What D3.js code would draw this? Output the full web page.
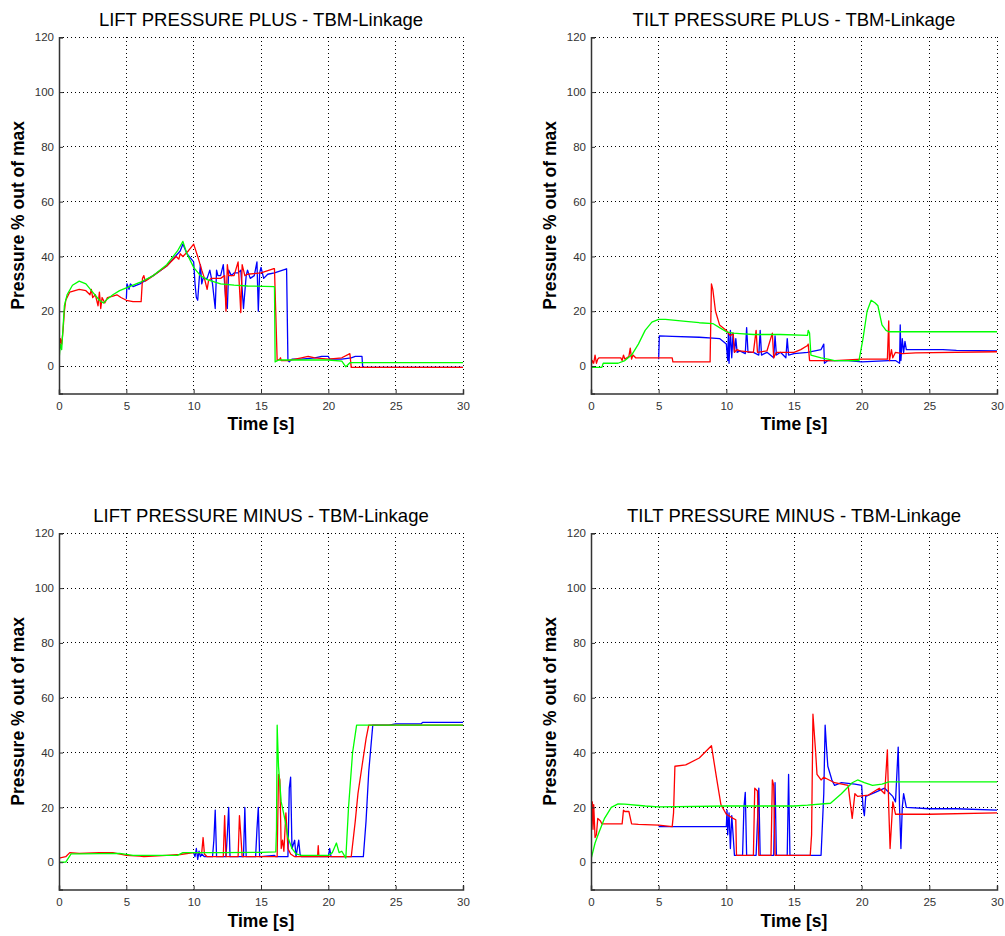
<!DOCTYPE html>
<html>
<head>
<meta charset="utf-8">
<script src="https://cdn.jsdelivr.net/npm/d3@7/dist/d3.min.js"></script>
<style>
  html, body { margin: 0; padding: 0; background: #fff; }
  svg { display: block; font-family: "Liberation Sans", Arial, sans-serif; }
</style>
</head>
<body>
<svg id="chart" width="1005" height="936"></svg>
<script>
// Axis ticks shared by all four panels
const timeTicks = [0, 5, 10, 15, 20, 25, 30];
const pressureTicks = [0, 20, 40, 60, 80, 100, 120];

// Panel titles
const titles = [
  "LIFT PRESSURE PLUS - TBM-Linkage",
  "TILT PRESSURE PLUS - TBM-Linkage",
  "LIFT PRESSURE MINUS - TBM-Linkage",
  "TILT PRESSURE MINUS - TBM-Linkage"
];

// ---- LIFT PRESSURE PLUS: [time s, pressure %] ----
const liftPlusBlue = [
  [5, 24.5], [5.05, 30], [5.2, 28], [5.3, 30], [5.5, 29], [6, 30], [7, 33], [8, 36.5], [9, 42],
  [9.2, 44.5], [9.5, 41], [10, 38], [10.1, 30], [10.2, 25], [10.3, 24], [10.4, 31], [10.5, 37],
  [10.6, 30], [10.7, 32], [11, 32], [11.2, 35], [11.4, 30], [11.6, 21], [11.7, 35], [11.8, 33],
  [12, 33], [12.2, 37], [12.4, 23], [12.5, 21], [12.6, 35], [12.8, 33], [13, 34], [13.3, 34],
  [13.5, 35], [13.7, 21], [13.9, 33], [14, 35], [14.2, 32], [14.5, 33], [14.7, 38], [14.8, 20],
  [14.9, 34], [15, 36], [15.2, 32], [15.5, 33.5], [16, 34], [16.9, 35.5], [17, 2], [17.1, 1.5],
  [17.3, 2.5], [18, 2.5], [19, 3], [19.5, 3.5], [20, 3.5], [20.1, 2.5], [21, 2.5], [21.7, 3],
  [22, 3.5], [22.5, 3.5], [22.55, -0.5], [30, -0.5]
];
const liftPlusRed = [
  [0, 5], [0.1, 10], [0.2, 8], [0.3, 13], [0.4, 20], [0.5, 24], [0.8, 27], [1.5, 28], [2, 27.5],
  [2.3, 26], [2.4, 28], [2.5, 25], [2.7, 26], [2.9, 22], [3, 27], [3.1, 21], [3.2, 25], [3.4, 23],
  [3.6, 25], [4, 25.5], [4.3, 26], [4.6, 25], [5, 24], [5.5, 23.5], [6.1, 23.5], [6.2, 32],
  [6.3, 33], [6.4, 31], [7, 33], [8, 36.5], [8.7, 40], [8.9, 39], [9, 41], [9.2, 40], [9.6, 42],
  [10, 44.5], [10.3, 40], [10.6, 35], [10.8, 32], [11, 28], [11.1, 31], [11.3, 32], [12, 32],
  [12.3, 33], [12.4, 20], [12.5, 37], [12.6, 33], [13, 33], [13.3, 38], [13.5, 19.5], [13.6, 37],
  [13.8, 33], [14, 33.5], [15, 34], [15.9, 35.5], [16, 35.5], [16.2, 2], [16.4, 2.5], [16.45, 3],
  [16.5, 2], [17, 2], [18, 3], [18.5, 3.5], [19, 3], [20, 2.5], [21, 3], [21.6, 4.5], [21.7, -0.5],
  [30, -0.5]
];
const liftPlusGreen = [
  [0, 2], [0.1, 8], [0.2, 6], [0.3, 14], [0.4, 22], [0.6, 26], [1, 29.5], [1.5, 31], [2, 30],
  [2.5, 27], [3, 24], [3.3, 23], [3.6, 24.5], [4, 26], [4.5, 27.5], [5, 28.5], [6, 30.5], [7, 33],
  [8, 37], [8.8, 42], [9.2, 45.5], [9.5, 41], [10, 36], [10.5, 33], [11, 31.5], [12, 30], [13, 29.5],
  [14, 29.2], [16, 29], [16.05, 1.5], [16.3, 2.2], [20, 2.2], [21, 1.8], [21.3, -0.3], [21.6, 1.2],
  [30, 1.2]
];

// ---- TILT PRESSURE PLUS ----
const tiltPlusBlue = [
  [5, 2.5], [5.05, 11], [6, 10.8], [8, 10.5], [9, 10.2], [9.5, 10], [10, 8], [10.1, 2], [10.15, 12],
  [10.2, 1], [10.3, 13], [10.4, 3], [10.5, 12], [10.6, 5], [10.7, 10], [10.8, 5], [11, 5.5],
  [11.4, 4.5], [11.5, 14], [11.6, 5], [12, 5], [12.4, 4], [12.5, 13], [12.6, 4], [13, 5], [13.5, 3],
  [13.6, 11], [13.7, 4], [14, 5], [14.4, 3], [14.5, 10], [14.6, 4], [15, 4.5], [16, 5], [17, 6],
  [17.2, 8], [17.25, 1], [17.5, 2], [19, 2], [20, 1.5], [22, 2], [22.5, 2], [22.8, 1], [22.85, 15],
  [22.9, 2], [23, 10], [23.1, 5], [23.2, 9], [23.3, 6], [24, 6], [26, 6], [27, 5.7], [30, 5.5]
];
const tiltPlusRed = [
  [0, 0], [0.1, 2], [0.2, 1], [0.3, 4], [0.4, 1], [0.5, 2.5], [0.6, 3], [1.5, 3], [2.2, 3], [2.3, 2],
  [2.4, 4], [2.5, 2.5], [2.8, 3.5], [2.9, 6.5], [3, 2.5], [3.1, 4], [3.3, 3], [4, 3], [5, 3], [6, 3],
  [6.05, 1.5], [8.8, 1.5], [8.9, 30], [9, 28], [9.2, 20], [9.5, 15], [10, 13], [10.3, 11], [10.5, 12],
  [10.6, 5], [10.8, 6], [11, 5.5], [12, 5], [12.2, 13], [12.3, 5], [13, 5.5], [13.4, 12], [13.5, 3],
  [13.7, 5], [14, 5], [15, 5], [15.5, 6], [16, 7.5], [16.05, 8], [16.15, 2], [18, 2], [20, 2.5],
  [21.9, 2.5], [22, 16.5], [22.05, 2], [22.2, 6], [22.3, 3], [22.5, 5], [23, 4.5], [24, 4.8],
  [30, 5.2]
];
const tiltPlusGreen = [
  [0, -0.5], [0.8, -0.5], [0.9, 1], [2, 1], [2.5, 2], [3, 4], [3.5, 8], [4, 13], [4.5, 16], [5, 17],
  [5.5, 17], [7, 16.3], [8, 15.8], [9, 15.5], [9.5, 14], [10, 12.5], [10.5, 12], [11, 11.8],
  [12, 11.5], [14, 11.5], [16, 11.2], [16.05, 13], [16.15, 12], [16.25, 4], [17, 3], [17.5, 2.5],
  [18, 2], [19.8, 2], [20.1, 10], [20.4, 20], [20.7, 24], [21, 23], [21.2, 22], [21.5, 15],
  [21.8, 13], [22, 12.5], [23, 12.5], [30, 12.5]
];

// ---- LIFT PRESSURE MINUS ----
const liftMinusBlue = [
  [10, 3.5], [10.1, 2], [10.2, 5], [10.3, 1], [10.4, 4], [10.5, 2], [10.6, 3], [10.8, 2], [11.4, 2],
  [11.5, 8], [11.6, 19], [11.7, 2], [12.4, 2], [12.5, 10], [12.6, 20], [12.7, 2], [13.7, 2],
  [13.8, 20], [13.9, 2], [14.6, 2], [14.7, 12], [14.8, 20], [14.9, 2], [15, 2], [16, 2.5], [16.1, 2],
  [17, 2], [17.1, 27], [17.2, 31], [17.3, 5], [17.5, 8], [17.6, 2], [17.8, 8], [17.9, 3], [18, 2],
  [20, 2], [20.1, 5], [20.2, 2], [22.6, 2], [22.8, 15], [23, 33], [23.3, 50], [24.5, 50],
  [25, 50.5], [26.9, 50.5], [27, 51], [30, 51]
];
const liftMinusRed = [
  [0, 1.5], [0.5, 2], [0.8, 3.5], [1.5, 3.2], [3, 3.5], [4, 3.5], [5, 2.5], [6, 2.2], [6.3, 2],
  [8, 2.5], [9, 2.8], [10, 3.5], [10.6, 3.5], [10.7, 9], [10.8, 3], [11, 2], [12.2, 2], [12.3, 17],
  [12.4, 2], [13.3, 2], [13.4, 17], [13.5, 10], [13.6, 2], [16.2, 2], [16.3, 32], [16.4, 30],
  [16.5, 5], [16.6, 8], [16.7, 4], [16.85, 18], [17, 5], [17.2, 3], [17.5, 2], [19.2, 2], [19.25, 6],
  [19.3, 2], [21.7, 2], [22, 15], [22.2, 25], [22.5, 35], [22.8, 45], [23, 50], [25, 50], [30, 50]
];
const liftMinusGreen = [
  [0, 0], [0.5, 0], [0.9, 3], [1.5, 3], [4.5, 3.2], [5.5, 2.5], [8.8, 2.5], [9.2, 3.5], [10, 3.5],
  [12, 3.5], [15, 3.6], [16.1, 3.8], [16.15, 12], [16.2, 50], [16.3, 35], [16.5, 22], [16.8, 15],
  [17, 9], [17.3, 5], [17.6, 3], [18, 2.5], [20, 2.5], [20.3, 3.5], [20.6, 7], [20.8, 3.5], [21, 4],
  [21.3, 1.5], [21.5, 20], [21.8, 40], [22.1, 50], [30, 50]
];

// ---- TILT PRESSURE MINUS ----
const tiltMinusBlue = [
  [5, 13], [10, 13], [10.05, 19], [10.1, 10], [10.2, 18], [10.3, 5], [10.4, 17], [10.5, 10],
  [10.6, 2.5], [11.2, 2.5], [11.3, 20], [11.4, 25.5], [11.5, 2.5], [12.2, 2.5], [12.4, 27],
  [12.5, 2.5], [13.5, 2.5], [13.6, 29], [13.7, 2.5], [14.5, 2.5], [14.6, 32], [14.7, 2.5], [17, 2.5],
  [17.2, 25], [17.3, 50], [17.4, 42], [17.5, 35], [17.8, 30], [18, 28], [18.5, 29], [19.5, 28.5],
  [20, 28], [20.1, 20], [20.2, 17], [20.3, 24], [21, 25.5], [21.7, 27], [22.3, 24], [22.5, 22],
  [22.7, 42], [22.8, 20], [22.9, 5], [23, 20], [23.1, 25], [23.3, 20], [25, 19.5], [27, 19.5],
  [30, 19]
];
const tiltMinusRed = [
  [0, 2], [0.05, 20], [0.1, 22], [0.15, 12], [0.2, 21], [0.3, 9], [0.4, 10], [0.5, 16], [0.7, 15],
  [0.8, 14], [2.3, 14], [2.4, 19], [2.5, 18.5], [2.8, 18.5], [3, 14], [3.5, 13.8], [5, 13.5], [6, 13],
  [6.1, 18], [6.2, 35], [7, 35.5], [8, 38], [8.9, 42.5], [9.3, 30], [9.6, 21], [10, 17.5], [10.5, 16],
  [10.7, 15.5], [10.75, 2.5], [12, 2.5], [12.1, 27], [12.3, 26], [12.4, 2.5], [13.3, 2.5],
  [13.4, 30], [13.5, 28], [13.6, 2.5], [16.2, 2.5], [16.3, 10], [16.4, 54], [16.6, 40], [16.7, 32],
  [17, 30], [17.2, 31], [18, 29], [19, 28], [19.2, 20], [19.3, 16], [19.5, 25], [19.7, 24],
  [20.5, 24.5], [21.3, 27], [21.7, 25], [21.9, 41], [22, 20], [22.1, 5], [22.3, 22], [22.5, 17.5],
  [25, 17.5], [30, 18]
];
const tiltMinusGreen = [
  [0, 1], [0.3, 7], [0.6, 11], [1, 16], [1.5, 20], [2, 21.3], [2.5, 21.2], [4, 20.5], [5, 20.2],
  [10, 20.5], [15, 20.5], [16, 20.8], [17.7, 21.5], [18.5, 25], [19.3, 29], [19.7, 30], [20.2, 29],
  [20.8, 28], [21.5, 28.5], [22, 29.3], [30, 29.3]
];

// Series colours and drawing order
const seriesColors = ["#0000ff", "#ff0000", "#00ff00"];

const panels = [
  { title: titles[0], left: 59,  right: 463, top: 37.3,  bottom: 393.4, series: [liftPlusBlue, liftPlusRed, liftPlusGreen] },
  { title: titles[1], left: 591, right: 997, top: 37.3,  bottom: 393.4, series: [tiltPlusBlue, tiltPlusRed, tiltPlusGreen] },
  { title: titles[2], left: 59,  right: 463, top: 533.3, bottom: 889.6, series: [liftMinusBlue, liftMinusRed, liftMinusGreen] },
  { title: titles[3], left: 591, right: 997, top: 533.3, bottom: 889.6, series: [tiltMinusBlue, tiltMinusRed, tiltMinusGreen] }
];

const svg = d3.select("#chart");

panels.forEach((p, i) => {
  const x = d3.scaleLinear().domain([0, 30]).range([p.left, p.right]);
  const y = d3.scaleLinear().domain([-10, 120]).range([p.bottom, p.top]);
  const g = svg.append("g");

  // dotted grid
  g.append("g").selectAll("line").data(timeTicks.filter(t => t > 0)).join("line")
    .attr("x1", d => x(d)).attr("x2", d => x(d))
    .attr("y1", p.top).attr("y2", p.bottom)
    .attr("stroke", "#000").attr("stroke-width", 1).attr("stroke-dasharray", "1,3")
    .attr("shape-rendering", "crispEdges");
  g.append("g").selectAll("line").data(pressureTicks).join("line")
    .attr("x1", p.left).attr("x2", p.right)
    .attr("y1", d => y(d)).attr("y2", d => y(d))
    .attr("stroke", "#000").attr("stroke-width", 1).attr("stroke-dasharray", "1,3")
    .attr("shape-rendering", "crispEdges");

  // data lines
  const clipId = "clip" + i;
  svg.append("clipPath").attr("id", clipId).append("rect")
    .attr("x", p.left).attr("y", p.top).attr("width", p.right - p.left).attr("height", p.bottom - p.top);
  const line = d3.line().x(d => x(d[0])).y(d => y(d[1]));
  g.append("g").attr("clip-path", `url(#${clipId})`)
    .selectAll("path").data(p.series).join("path")
    .attr("d", line)
    .attr("fill", "none")
    .attr("stroke", (d, k) => seriesColors[k])
    .attr("stroke-width", 1.3)
    .attr("stroke-linejoin", "round");

  // axes (left and bottom only)
  const xAxis = d3.axisBottom(x).tickValues(timeTicks).tickSize(-4).tickPadding(8);
  const yAxis = d3.axisLeft(y).tickValues(pressureTicks).tickSize(-4).tickPadding(5);
  const gx = g.append("g").attr("transform", `translate(0,${p.bottom})`).call(xAxis);
  const gy = g.append("g").attr("transform", `translate(${p.left},0)`).call(yAxis);
  [gx, gy].forEach(a => {
    a.select(".domain").attr("stroke", "#333").attr("stroke-width", 1.5);
    a.selectAll(".tick line").attr("stroke", "#333");
    a.selectAll(".tick text").attr("fill", "#333").style("font-size", "11.5px")
      .style("font-family", "'Liberation Sans', Arial, sans-serif");
  });

  // titles and axis labels
  const cx = (p.left + p.right) / 2;
  g.append("text").attr("x", cx).attr("y", p.top - 11)
    .attr("text-anchor", "middle").style("font-size", "18.5px").attr("fill", "#000")
    .text(p.title);
  g.append("text").attr("x", cx).attr("y", p.bottom + 37)
    .attr("text-anchor", "middle").style("font-size", "17.5px").style("font-weight", "bold")
    .text("Time [s]");
  g.append("text")
    .attr("transform", `translate(${p.left - 35},${(p.top + p.bottom) / 2}) rotate(-90)`)
    .attr("text-anchor", "middle").style("font-size", "17.5px").style("font-weight", "bold")
    .text("Pressure % out of max");
});
</script>
</body>
</html>
